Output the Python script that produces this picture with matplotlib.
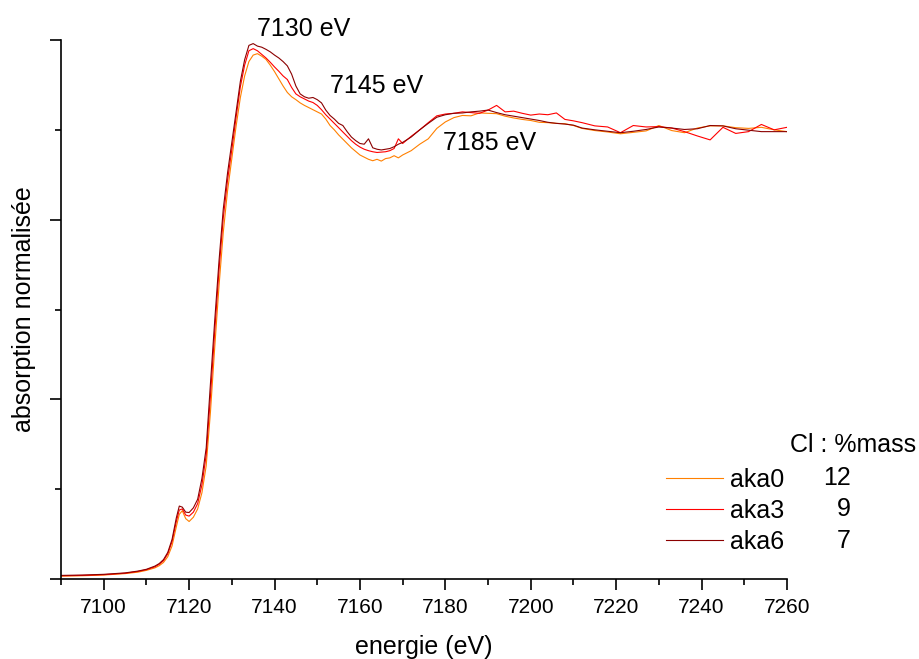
import matplotlib
matplotlib.use("Agg")
import matplotlib.pyplot as plt
from matplotlib.ticker import MultipleLocator, NullFormatter

plt.rcParams['font.family'] = ['Liberation Sans', 'DejaVu Sans']

# ---- data ----
energy = [7090, 7095, 7100, 7105, 7108, 7110, 7112, 7113, 7114, 7115, 7116,
          7117, 7117.7, 7118.4, 7119.2,
          7120, 7121, 7122, 7123, 7124, 7125, 7126, 7127, 7128, 7129,
          7130, 7131, 7132, 7133, 7134, 7135, 7136, 7137, 7138, 7139,
          7140, 7141, 7142, 7143, 7144, 7145, 7146, 7147, 7148, 7149,
          7150, 7151, 7152, 7153, 7154, 7155, 7156, 7157, 7158, 7159,
          7160, 7161, 7162, 7163, 7164, 7165, 7166, 7167, 7168, 7169, 7170,
          7172, 7174, 7176, 7178, 7180, 7182, 7184, 7186, 7188, 7190,
          7192, 7194, 7196, 7198, 7200, 7202, 7204, 7206, 7208, 7210, 7212,
          7215, 7218, 7221, 7224, 7227, 7230, 7233, 7236, 7239, 7242,
          7245, 7248, 7251, 7254, 7257, 7260]

aka0 = [0.008, 0.009, 0.011, 0.015, 0.019, 0.024, 0.031, 0.037, 0.046, 0.062, 0.092,
        0.145, 0.180, 0.190, 0.168,
        0.160, 0.172, 0.195, 0.240, 0.315, 0.465, 0.645, 0.815, 0.965, 1.080,
        1.170, 1.260, 1.340, 1.400, 1.440, 1.458, 1.462, 1.455, 1.446, 1.430,
        1.412, 1.392, 1.372, 1.354, 1.342, 1.334, 1.325, 1.318, 1.312, 1.306,
        1.300, 1.294, 1.280, 1.262, 1.250, 1.236, 1.224, 1.212, 1.200, 1.190,
        1.180, 1.174, 1.168, 1.164, 1.168, 1.163, 1.170, 1.172, 1.178, 1.172, 1.180,
        1.192, 1.210, 1.225, 1.254, 1.272, 1.284, 1.290, 1.289, 1.297, 1.296,
        1.295, 1.288, 1.283, 1.279, 1.276, 1.271, 1.270, 1.268, 1.267, 1.262, 1.254,
        1.248, 1.244, 1.239, 1.243, 1.247, 1.262, 1.248, 1.242, 1.255, 1.261,
        1.261, 1.256, 1.254, 1.257, 1.250, 1.245]

aka3 = [0.009, 0.010, 0.012, 0.016, 0.021, 0.026, 0.034, 0.041, 0.051, 0.070, 0.104,
        0.160, 0.192, 0.195, 0.178,
        0.175, 0.186, 0.210, 0.262, 0.345, 0.510, 0.690, 0.860, 1.005, 1.110,
        1.195, 1.285, 1.370, 1.430, 1.470, 1.476, 1.470, 1.460, 1.450, 1.438,
        1.425, 1.413, 1.400, 1.390, 1.368, 1.350, 1.342, 1.336, 1.330, 1.326,
        1.318, 1.306, 1.292, 1.280, 1.268, 1.256, 1.244, 1.232, 1.220, 1.210,
        1.202, 1.196, 1.192, 1.189, 1.187, 1.188, 1.189, 1.192, 1.198, 1.225, 1.212,
        1.232, 1.250, 1.270, 1.289, 1.294, 1.296, 1.300, 1.298, 1.296, 1.305,
        1.318, 1.300, 1.302, 1.296, 1.291, 1.294, 1.292, 1.297, 1.279, 1.275, 1.270,
        1.261, 1.258, 1.242, 1.262, 1.258, 1.259, 1.255, 1.245, 1.233, 1.222,
        1.257, 1.240, 1.245, 1.265, 1.250, 1.257]

aka6 = [0.010, 0.011, 0.013, 0.017, 0.022, 0.027, 0.036, 0.043, 0.054, 0.074, 0.110,
        0.170, 0.203, 0.200, 0.186,
        0.185, 0.198, 0.222, 0.280, 0.365, 0.545, 0.720, 0.885, 1.030, 1.130,
        1.215, 1.300, 1.385, 1.445, 1.485, 1.490, 1.483, 1.480, 1.474, 1.467,
        1.458, 1.450, 1.440, 1.428, 1.405, 1.372, 1.350, 1.342, 1.338, 1.340,
        1.334, 1.325, 1.305, 1.290, 1.280, 1.268, 1.262, 1.245, 1.230, 1.220,
        1.212, 1.210, 1.225, 1.200, 1.196, 1.194, 1.196, 1.198, 1.203, 1.210, 1.215,
        1.230, 1.250, 1.268, 1.285, 1.292, 1.296, 1.297, 1.300, 1.302, 1.305,
        1.298, 1.292, 1.288, 1.284, 1.280, 1.276, 1.271, 1.268, 1.266, 1.263, 1.255,
        1.250, 1.246, 1.242, 1.246, 1.251, 1.258, 1.255, 1.251, 1.253, 1.262,
        1.261, 1.253, 1.249, 1.245, 1.245, 1.245]

series_names = ['aka0', 'aka3', 'aka6']
series_colors = ['#FF8000', '#FF0000', '#8B0000']
cl_mass = ['12', '9', '7']

peak_labels = ['7130 eV', '7145 eV', '7185 eV']
peak_label_x = [7136.0, 7152.9, 7179.5]
peak_label_y = [1.511, 1.352, 1.194]

# ---- figure ----
fig = plt.figure(figsize=(9.2, 6.59), dpi=100)
W, H = 920, 659
ax = fig.add_axes([61 / W, 1 - 579 / H, (787 - 61) / W, (579 - 40) / H])

for vals, name, col in zip([aka0, aka3, aka6], series_names, series_colors):
    ax.plot(energy, vals, color=col, lw=0.8, label=name)

ax.set_xlim(7090, 7260)
ax.set_ylim(0, 1.5)

ax.xaxis.set_major_locator(MultipleLocator(20))
ax.xaxis.set_minor_locator(MultipleLocator(10))
ax.yaxis.set_major_locator(MultipleLocator(0.5))
ax.yaxis.set_minor_locator(MultipleLocator(0.25))
ax.yaxis.set_major_formatter(NullFormatter())

for s in ['top', 'right']:
    ax.spines[s].set_visible(False)
for s in ['left', 'bottom']:
    ax.spines[s].set_linewidth(1.2)

ax.tick_params(axis='both', which='major', direction='out', length=8, width=1.2,
               labelsize=15, pad=5.5)
ax.tick_params(axis='both', which='minor', direction='out', length=4.5, width=1.2)

ax.set_xlabel('energie (eV)', fontsize=18, labelpad=13)
ax.set_ylabel('absorption normalisée', fontsize=18, labelpad=4.5)

for t, x, y in zip(peak_labels, peak_label_x, peak_label_y):
    ax.text(x, y, t, fontsize=18, ha='left', va='baseline', clip_on=False)

leg = ax.legend(loc='upper left', bbox_to_anchor=(666 / W, 1 - 468 / H),
                bbox_transform=fig.transFigure, frameon=False, fontsize=18,
                handlelength=2.27, handletextpad=0.3, labelspacing=0.28,
                borderpad=0, borderaxespad=0)

fig.text(790 / W, 1 - 452 / H, 'Cl : %mass', fontsize=18, ha='left', va='baseline')
for i, v in enumerate(cl_mass):
    fig.text(851 / W, 1 - (485 + 31.3 * i) / H, v, fontsize=18, ha='right', va='baseline')

fig.savefig('out.png', dpi=100)
